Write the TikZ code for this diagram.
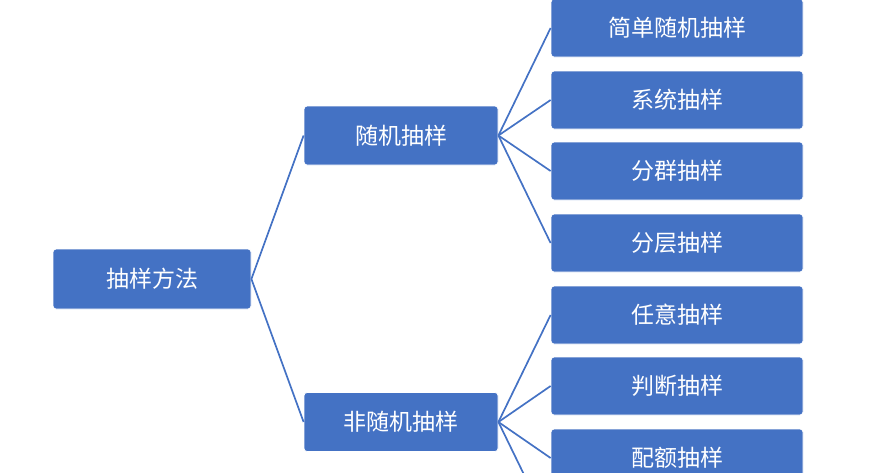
\documentclass[tikz,border=0pt]{standalone}
\usepackage{fontspec}
\setmainfont{Noto Sans CJK SC}
\begin{document}
\begin{tikzpicture}[x=1pt,y=-1pt,
  bx/.style={draw=white,line width=0.8pt,fill={rgb,255:red,68;green,114;blue,196},rounded corners=3pt,text=white,font=\fontsize{23}{26}\selectfont,inner sep=0pt},
  ln/.style={draw={rgb,255:red,68;green,114;blue,196},line width=1.7pt}]
\useasboundingbox (0,0) rectangle (896,472);
\clip (0,0) rectangle (896,472);
\node[bx,minimum width=198,minimum height=60] (root) at (152,279) {抽样方法};
\node[bx,minimum width=194,minimum height=59] (r) at (401,135.5) {随机抽样};
\node[bx,minimum width=194,minimum height=59] (nr) at (401,422) {非随机抽样};
\foreach \n/\y/\t in {a/28/简单随机抽样,b/100/系统抽样,c/171/分群抽样,d/243/分层抽样,e/315/任意抽样,f/386/判断抽样,g/458/配额抽样}
  \node[bx,minimum width=252,minimum height=58] (\n) at (677,\y) {\t};
\coordinate (h) at (551,530);
\draw[ln] (root.east) -- (r.west);
\draw[ln] (root.east) -- (nr.west);
\foreach \n in {a,b,c,d} \draw[ln] (r.east) -- (\n.west);
\foreach \n in {e,f,g} \draw[ln] (nr.east) -- (\n.west);
\draw[ln] (nr.east) -- (h);
\end{tikzpicture}
\end{document}
